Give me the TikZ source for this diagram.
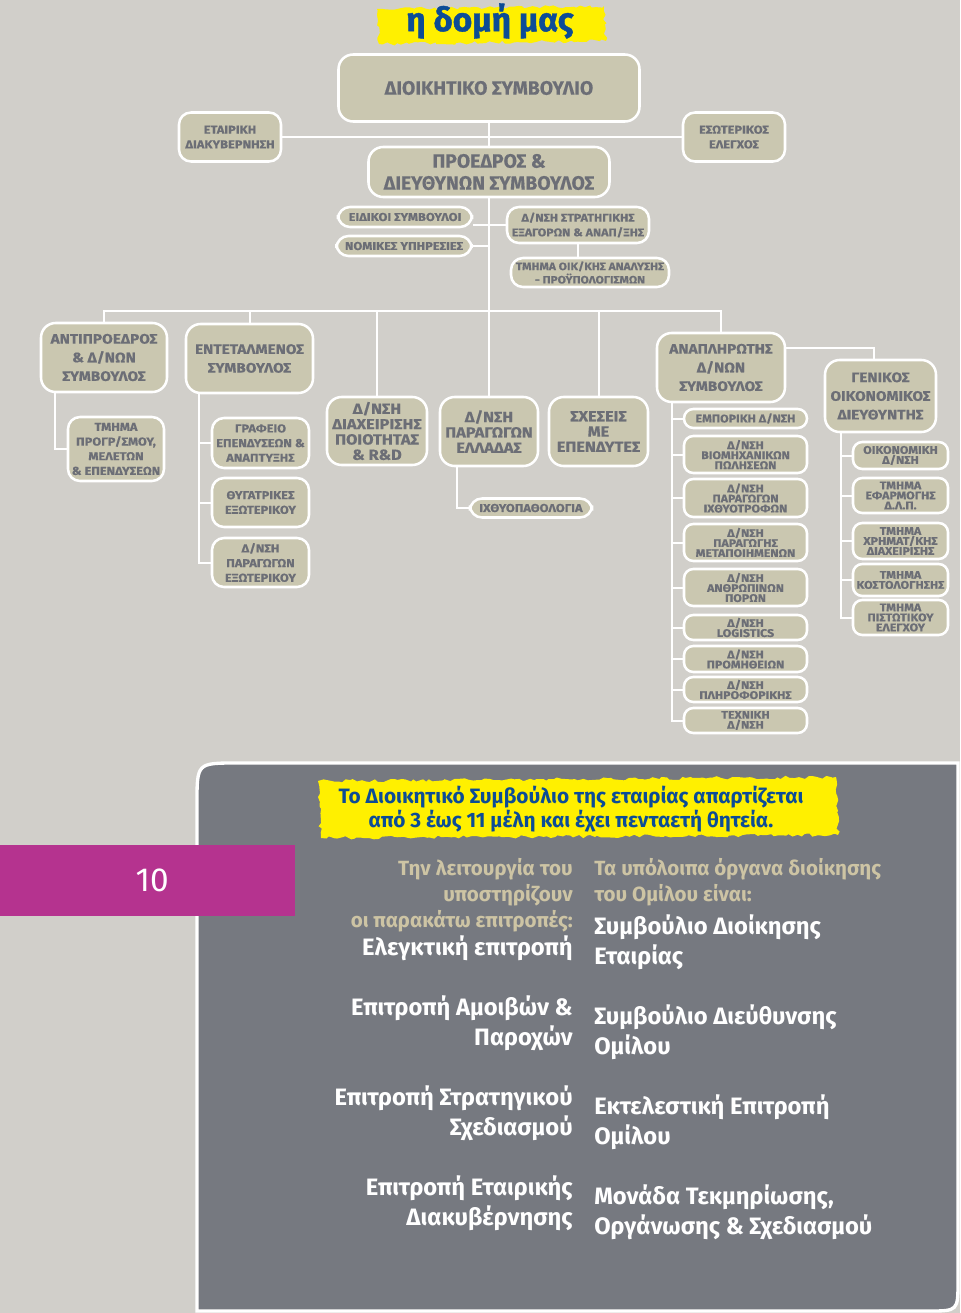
\documentclass[tikz,border=0pt]{standalone}
\usepackage{fontspec}
\setmainfont{Fira Sans}
\newfontfamily\chartfont{Fira Sans}[FakeStretch=1.12, FakeBold=0.4]
\newfontfamily\bigchartfont{Fira Sans}[FakeBold=0.4]
\newfontfamily\titlefont{Fira Sans}[FakeBold=1.2]
\usetikzlibrary{positioning,decorations.pathmorphing}
\definecolor{pagegray}{RGB}{209,207,202}
\definecolor{boxkhaki}{RGB}{202,199,176}
\definecolor{boxtext}{RGB}{108,110,118}
\definecolor{panelgray}{RGB}{118,121,128}
\definecolor{pagemagenta}{RGB}{181,51,143}
\definecolor{brushyellow}{RGB}{255,240,0}
\definecolor{titleblue}{RGB}{12,76,150}
\definecolor{beige}{RGB}{205,196,164}
\newlength{\pxu}
\setlength{\pxu}{0.75pt}

\begin{document}
\begin{tikzpicture}[
    x=\pxu, y=-\pxu,
    box/.style={
        draw=white,
        line width=1.9pt,
        fill=boxkhaki,
        rounded corners=9pt,
        text=boxtext,
        align=center,
        inner sep=1pt
    },
    sz/.style 2 args={minimum width=#1\pxu, minimum height=#2\pxu},
    bigtxt/.style={font=\bigchartfont\bfseries\fontsize{14.5}{16.5}\selectfont, rounded corners=11pt},
    headtxt/.style={font=\chartfont\bfseries\fontsize{10.3}{14}\selectfont, rounded corners=11pt},
    unittxt/.style={font=\chartfont\bfseries\fontsize{11}{11.5}\selectfont, rounded corners=11pt},
    smalltxt/.style={font=\chartfont\bfseries\fontsize{8.6}{11}\selectfont},
    tinytxt/.style={font=\chartfont\bfseries\fontsize{8.3}{7.5}\selectfont, rounded corners=7pt},
    link/.style={draw=white, line width=1.5pt},
    brush/.style={
        fill=brushyellow,
        decorate,
        decoration={random steps, segment length=3pt, amplitude=1.3pt}
    },
    beigetxt/.style={font=\bfseries\fontsize{15.4}{19.5}\selectfont, text=beige, inner sep=0pt},
    whitetxt/.style={font=\bfseries\fontsize{17.8}{22.5}\selectfont, text=white, inner sep=0pt}
]
\pgfmathsetseed{11}
\useasboundingbox (0,0) rectangle (960,1313);
\fill[pagegray] (0,0) rectangle (960,1313);

% ============================================================
% TITLE
% ============================================================

\path[brush] (377,9) -- (604,6) -- (606,41) -- (379,44) -- cycle;

\node[font=\titlefont\bfseries\fontsize{25}{28}\selectfont, text=titleblue] (title) at (490,21)
{η δομή μας};

% ============================================================
% TOP — BOARD AND CEO
% ============================================================

\node[box, sz={301}{67}, bigtxt] (board) at (489,88)
{ΔΙΟΙΚΗΤΙΚΟ ΣΥΜΒΟΥΛΙΟ};

\node[box, sz={102}{49}, smalltxt] (corpgov) at (230,137)
{ΕΤΑΙΡΙΚΗ\\ΔΙΑΚΥΒΕΡΝΗΣΗ};

\node[box, sz={102}{49}, smalltxt] (intaudit) at (734,137)
{ΕΣΩΤΕΡΙΚΟΣ\\ΕΛΕΓΧΟΣ};

\node[box, sz={241}{50}, bigtxt] (ceo) at (489,172)
{ΠΡΟΕΔΡΟΣ \&\\ΔΙΕΥΘΥΝΩΝ ΣΥΜΒΟΥΛΟΣ};

\node[box, sz={134}{20}, smalltxt] (advisors) at (405,217)
{ΕΙΔΙΚΟΙ ΣΥΜΒΟΥΛΟΙ};

\node[box, sz={135}{20}, smalltxt] (legal) at (404,246)
{ΝΟΜΙΚΕΣ ΥΠΗΡΕΣΙΕΣ};

\node[box, sz={142}{36}, font=\chartfont\bfseries\fontsize{8.3}{11}\selectfont] (strategy) at (578,225)
{Δ/ΝΣΗ ΣΤΡΑΤΗΓΙΚΗΣ\\ΕΞΑΓΟΡΩΝ \& ΑΝΑΠ/ΞΗΣ};

\node[box, sz={158}{29}, font=\chartfont\bfseries\fontsize{8}{10}\selectfont] (budget) at (590,272.5)
{ΤΜΗΜΑ ΟΙΚ/ΚΗΣ ΑΝΑΛΥΣΗΣ\\- ΠΡΟΫΠΟΛΟΓΙΣΜΩΝ};

\draw[link] (board.south) -- (ceo.north);
\draw[link] (corpgov.east) -- (intaudit.west);
\draw[link] (strategy.west) -- (strategy.west -| advisors.east);
\draw[link] (legal.east) -- (legal.east -| ceo.south);
\draw[link] (strategy.south) -- (strategy.south |- budget.north);

% ============================================================
% LEVEL 1 — DIVISIONS ON THE BUS
% ============================================================

\node[box, sz={126}{69}, headtxt] (vicepres) at (104,357.5)
{ΑΝΤΙΠΡΟΕΔΡΟΣ\\\& Δ/ΝΩΝ\\ΣΥΜΒΟΥΛΟΣ};

\node[box, sz={127}{69}, headtxt] (mandir) at (249.5,358.5)
{ΕΝΤΕΤΑΛΜΕΝΟΣ\\ΣΥΜΒΟΥΛΟΣ};

\node[box, sz={100}{68}, unittxt] (quality) at (377,431)
{Δ/ΝΣΗ\\ΔΙΑΧΕΙΡΙΣΗΣ\\ΠΟΙΟΤΗΤΑΣ\\\& R\&D};

\node[box, sz={98}{69}, unittxt] (prodgr) at (489,431.5)
{Δ/ΝΣΗ\\ΠΑΡΑΓΩΓΩΝ\\ΕΛΛΑΔΑΣ};

\node[box, sz={99}{69}, unittxt] (investors) at (598.5,431.5)
{ΣΧΕΣΕΙΣ\\ΜΕ\\ΕΠΕΝΔΥΤΕΣ};

\node[box, sz={128}{69}, headtxt] (deputy) at (721,367.5)
{ΑΝΑΠΛΗΡΩΤΗΣ\\Δ/ΝΩΝ\\ΣΥΜΒΟΥΛΟΣ};

\node[box, sz={111}{72}, headtxt] (cfo) at (880.5,396)
{ΓΕΝΙΚΟΣ\\ΟΙΚΟΝΟΜΙΚΟΣ\\ΔΙΕΥΘΥΝΤΗΣ};

\coordinate (bus) at (489,311);

\draw[link] (ceo.south) -- (bus);
\draw[link] (vicepres.north) |- (bus);
\draw[link] (mandir.north) |- (bus);
\draw[link] (quality.north) |- (bus);
\draw[link] (prodgr.north) |- (bus);
\draw[link] (investors.north) |- (bus);
\draw[link] (deputy.north) |- (bus);
\draw[link] ([yshift=15pt]deputy.east) -| ([xshift=-5pt]cfo.north);

% ============================================================
% LEVEL 2 — LEFT BRANCHES
% ============================================================

\node[box, sz={96}{64}, smalltxt] (prog) at (116,449)
{ΤΜΗΜΑ\\ΠΡΟΓΡ/ΣΜΟΥ,\\ΜΕΛΕΤΩΝ\\\& ΕΠΕΝΔΥΣΕΩΝ};

\node[box, sz={97}{50}, smalltxt] (office) at (260.5,443)
{ΓΡΑΦΕΙΟ\\ΕΠΕΝΔΥΣΕΩΝ \&\\ΑΝΑΠΤΥΞΗΣ};

\node[box, sz={97}{49}, smalltxt] (subs) at (260.5,502.5)
{ΘΥΓΑΤΡΙΚΕΣ\\ΕΞΩΤΕΡΙΚΟΥ};

\node[box, sz={97}{49}, smalltxt] (prodab) at (260.5,562.5)
{Δ/ΝΣΗ\\ΠΑΡΑΓΩΓΩΝ\\ΕΞΩΤΕΡΙΚΟΥ};

\node[box, sz={122}{19}, smalltxt] (pathol) at (531,508)
{ΙΧΘΥΟΠΑΘΟΛΟΓΙΑ};

\draw[link] ([xshift=15\pxu]vicepres.south west) |- (prog.west);
\draw[link] ([xshift=14\pxu]mandir.south west) |- (office.west);
\draw[link] ([xshift=14\pxu]mandir.south west) |- (subs.west);
\draw[link] ([xshift=14\pxu]mandir.south west) |- (prodab.west);
\draw[link] ([xshift=18\pxu]prodgr.south west) |- (pathol.west);

% ============================================================
% LEVEL 2 — DEPUTY CEO
% ============================================================

\node[box, sz={123}{19}, tinytxt] (sales) at (745.5,418.5)
{ΕΜΠΟΡΙΚΗ Δ/ΝΣΗ};

\node[box, sz={123}{37}, tinytxt] (indsales) at (745.5,454.5)
{Δ/ΝΣΗ\\ΒΙΟΜΗΧΑΝΙΚΩΝ\\ΠΩΛΗΣΕΩΝ};

\node[box, sz={123}{38}, tinytxt] (feed) at (745.5,498)
{Δ/ΝΣΗ\\ΠΑΡΑΓΩΓΩΝ\\ΙΧΘΥΟΤΡΟΦΩΝ};

\node[box, sz={123}{37}, tinytxt] (processed) at (745.5,542.5)
{Δ/ΝΣΗ\\ΠΑΡΑΓΩΓΗΣ\\ΜΕΤΑΠΟΙΗΜΕΝΩΝ};

\node[box, sz={123}{37}, tinytxt] (hr) at (745.5,587.5)
{Δ/ΝΣΗ\\ΑΝΘΡΩΠΙΝΩΝ\\ΠΟΡΩΝ};

\node[box, sz={123}{25}, tinytxt] (logistics) at (745.5,627.5)
{Δ/ΝΣΗ\\LOGISTICS};

\node[box, sz={123}{26}, tinytxt] (procure) at (745.5,659)
{Δ/ΝΣΗ\\ΠΡΟΜΗΘΕΙΩΝ};

\node[box, sz={123}{25}, tinytxt] (itdept) at (745.5,689.5)
{Δ/ΝΣΗ\\ΠΛΗΡΟΦΟΡΙΚΗΣ};

\node[box, sz={123}{25}, tinytxt] (tech) at (745.5,720.5)
{ΤΕΧΝΙΚΗ\\Δ/ΝΣΗ};

\draw[link] ([xshift=16\pxu]deputy.south west) |- (sales.west);
\draw[link] ([xshift=16\pxu]deputy.south west) |- (indsales.west);
\draw[link] ([xshift=16\pxu]deputy.south west) |- (feed.west);
\draw[link] ([xshift=16\pxu]deputy.south west) |- (processed.west);
\draw[link] ([xshift=16\pxu]deputy.south west) |- (hr.west);
\draw[link] ([xshift=16\pxu]deputy.south west) |- (logistics.west);
\draw[link] ([xshift=16\pxu]deputy.south west) |- (procure.west);
\draw[link] ([xshift=16\pxu]deputy.south west) |- (itdept.west);
\draw[link] ([xshift=16\pxu]deputy.south west) |- (tech.west);

% ============================================================
% LEVEL 2 — CFO
% ============================================================

\node[box, sz={95}{27}, tinytxt] (findept) at (900.5,455.5)
{ΟΙΚΟΝΟΜΙΚΗ\\Δ/ΝΣΗ};

\node[box, sz={95}{35}, tinytxt] (ifrs) at (900.5,495.5)
{ΤΜΗΜΑ\\ΕΦΑΡΜΟΓΗΣ\\Δ.Λ.Π.};

\node[box, sz={95}{36}, tinytxt] (treasury) at (900.5,541)
{ΤΜΗΜΑ\\ΧΡΗΜΑΤ/ΚΗΣ\\ΔΙΑΧΕΙΡΙΣΗΣ};

\node[box, sz={95}{32}, tinytxt] (costing) at (900.5,580)
{ΤΜΗΜΑ\\ΚΟΣΤΟΛΟΓΗΣΗΣ};

\node[box, sz={95}{35}, tinytxt] (credit) at (900.5,617.5)
{ΤΜΗΜΑ\\ΠΙΣΤΩΤΙΚΟΥ\\ΕΛΕΓΧΟΥ};

\draw[link] ([xshift=17\pxu]cfo.south west) |- (findept.west);
\draw[link] ([xshift=17\pxu]cfo.south west) |- (ifrs.west);
\draw[link] ([xshift=17\pxu]cfo.south west) |- (treasury.west);
\draw[link] ([xshift=17\pxu]cfo.south west) |- (costing.west);
\draw[link] ([xshift=17\pxu]cfo.south west) |- (credit.west);

% ============================================================
% BOTTOM PANEL
% ============================================================

\draw[fill=panelgray, draw=white, line width=2.5pt]
    (197,1311) -- (197,803) .. controls (197,763) .. (237,763)
    -- (958,763) -- (958,1281) .. controls (958,1311) .. (928,1311) -- cycle;

\node[fill=pagemagenta, sz={295}{71}, inner sep=0pt, text=white,
      font=\fontsize{25}{28}\selectfont] (pagenum) at (147.5,880.5)
{\hspace*{7pt}10};

\path[brush] (318,781) -- (836,777) -- (838,835) -- (321,838) -- cycle;

\node[font=\bfseries\fontsize{15.6}{16.5}\selectfont, text=titleblue, align=center] (boardnote) at (571,809)
{Το Διοικητικό Συμβούλιο της εταιρίας απαρτίζεται\\από 3 έως 11 μέλη και έχει πενταετή θητεία.};

% left column
\node[beigetxt, anchor=east, align=right] (support) at (573,895)
{Την λειτουργία του\\υποστηρίζουν\\οι παρακάτω επιτροπές:};

\node[whitetxt, anchor=east, align=right] (audit) at (573,948)
{Ελεγκτική επιτροπή};

\node[whitetxt, anchor=east, align=right] (remun) at (573,1023)
{Επιτροπή Αμοιβών \&\\Παροχών};

\node[whitetxt, anchor=east, align=right] (stratcom) at (573,1113)
{Επιτροπή Στρατηγικού\\Σχεδιασμού};

\node[whitetxt, anchor=east, align=right] (govcom) at (573,1203)
{Επιτροπή Εταιρικής\\Διακυβέρνησης};

% right column
\node[beigetxt, anchor=west, align=left] (organs) at (594,882.5)
{Τα υπόλοιπα όργανα διοίκησης\\του Ομίλου είναι:};

\node[whitetxt, anchor=west, align=left] (compboard) at (594,942)
{Συμβούλιο Διοίκησης\\Εταιρίας};

\node[whitetxt, anchor=west, align=left] (groupboard) at (594,1032)
{Συμβούλιο Διεύθυνσης\\Ομίλου};

\node[whitetxt, anchor=west, align=left] (execcom) at (594,1122)
{Εκτελεστική Επιτροπή\\Ομίλου};

\node[whitetxt, anchor=west, align=left] (docunit) at (594,1212)
{Μονάδα Τεκμηρίωσης,\\Οργάνωσης \& Σχεδιασμού};

\end{tikzpicture}
\end{document}
